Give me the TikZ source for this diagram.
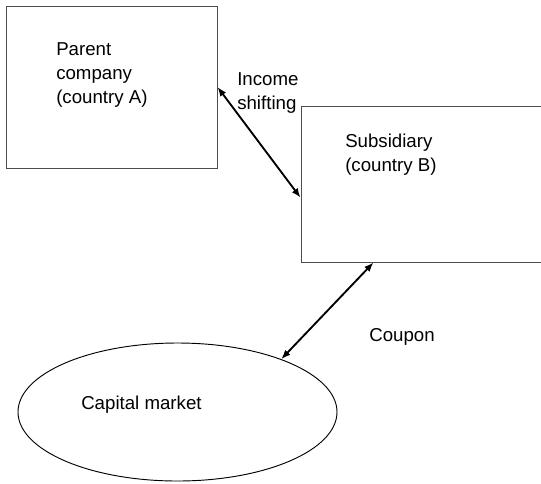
\documentclass[tikz,border=0pt]{standalone}
\usepackage{fontspec}
\setmainfont{Liberation Sans}
\usetikzlibrary{shapes.geometric,arrows.meta}
\begin{document}
\begin{tikzpicture}[x=0.75pt,y=-0.75pt,font=\fontsize{14}{18}\selectfont,
  firm/.style={shape=rectangle,draw=black!70,line width=0.75pt,inner sep=0pt},
  market/.style={shape=ellipse,draw=black,line width=0.7pt,inner sep=0pt},
  lbl/.style={anchor=base west,align=left,inner sep=0pt},
  flow/.style={{Latex[length=7pt,width=5.5pt]}-{Latex[length=7pt,width=5.5pt]},line width=1.4pt}]
\useasboundingbox (0,0) rectangle (541,483);
\clip (0,0) rectangle (541,483);

\node[firm,minimum width=158.25pt,minimum height=121.5pt] (P) at (111.5,87) {};
\node[firm,minimum width=194.25pt,minimum height=117pt] (S) at (430.5,184) {};
\node[market,minimum width=239.25pt,minimum height=103.5pt] (M) at (177.5,412) {};

% base anchor sits on the last line
\node[lbl] (Pt) at (56,103) {Parent\\company\\(country A)};
\node[lbl] (St) at (345,171) {Subsidiary\\(country B)};
\node[lbl] (Mt) at (81,409) {Capital market};
\node[lbl] (It) at (237,109) {Income\\shifting};
\node[lbl] (Ct) at (369,341) {Coupon};

\draw[flow] (P.east) -- (S.186);
\draw[flow] (S.234) -- (M.27);
\end{tikzpicture}
\end{document}
